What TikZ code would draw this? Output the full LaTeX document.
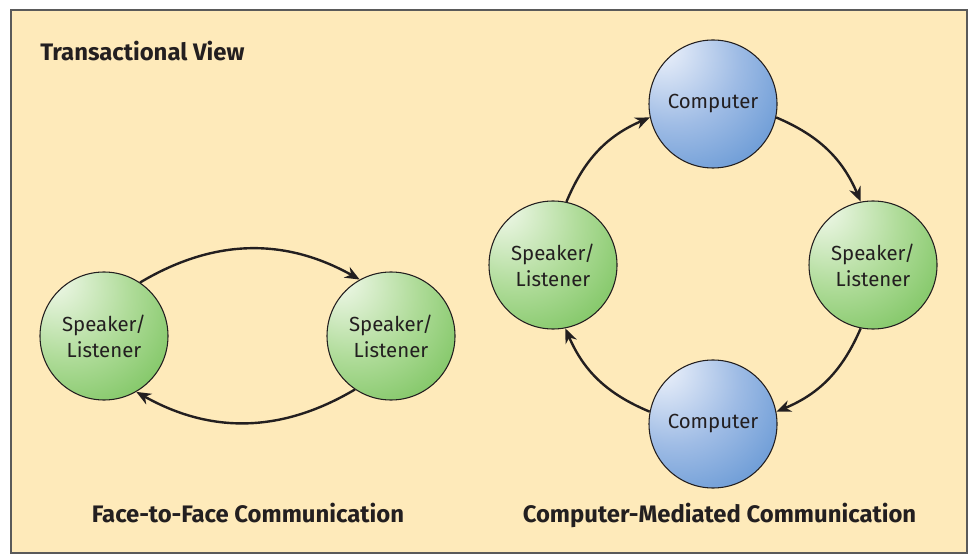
\documentclass[tikz,border=0pt]{standalone}
\usepackage{fontspec}
\setmainfont{Fira Sans}
\usetikzlibrary{arrows.meta}
\definecolor{bg}{HTML}{FEEABA}
\definecolor{framec}{HTML}{5A5A5A}
\definecolor{ink}{HTML}{231F20}
\definecolor{g0}{HTML}{F6FBF3}
\definecolor{g1}{HTML}{E2F2D8}
\definecolor{g2}{HTML}{B0DC9A}
\definecolor{g3}{HTML}{7CC460}
\definecolor{g4}{HTML}{55B040}
\definecolor{b0}{HTML}{F3F6FC}
\definecolor{b1}{HTML}{DCE6F6}
\definecolor{b2}{HTML}{9FBCE5}
\definecolor{b3}{HTML}{6597D4}
\definecolor{b4}{HTML}{357CC3}
\pgfdeclareradialshading{greenball}{\pgfpoint{-22bp}{24bp}}{color(0bp)=(g0); color(7bp)=(g1); color(25bp)=(g2); color(45bp)=(g3); color(60bp)=(g4); color(82bp)=(g4)}
\pgfdeclareradialshading{blueball}{\pgfpoint{-22bp}{24bp}}{color(0bp)=(b0); color(7bp)=(b1); color(25bp)=(b2); color(45bp)=(b3); color(60bp)=(b4); color(82bp)=(b4)}
\tikzset{
  ball/.style={circle, draw=ink, line width=0.8pt, minimum size=96pt, inner sep=0pt,
    align=center, text=ink, font=\fontsize{15.3}{19.5}\selectfont},
  slball/.style={ball, shading=greenball},
  compball/.style={ball, shading=blueball},
  arr/.style={draw=ink, line width=1.8pt, -{Stealth[length=11pt,width=9pt,inset=3.5pt]}},
  title/.style={text=ink, font=\fontsize{17.9}{21}\selectfont\bfseries, inner sep=0pt}
}
\begin{document}
\begin{tikzpicture}[x=0.75pt,y=-0.75pt]
\useasboundingbox (0,0) rectangle (969,555);
\fill[white] (0,0) rectangle (969,555);
\draw[framec, fill=bg, line width=1.1pt] (11,10) rectangle (967,553);

\node[title, anchor=base west] (tv) at (40,61) {Transactional View};
\node[title, anchor=base] (f2f) at (248,522) {Face-to-Face Communication};
\node[title, anchor=base] (cmc) at (719.5,522) {Computer-Mediated Communication};

\node[slball] (a) at (104,336) {Speaker/\\Listener};
\node[slball] (b) at (391,336) {Speaker/\\Listener};

\node[compball] (ct) at (713,104) {Computer};
\node[slball] (sl) at (553,265) {Speaker/\\Listener};
\node[slball] (sr) at (873,265) {Speaker/\\Listener};
\node[compball] (cb) at (713,424) {Computer};

\draw[arr] (a.56) to[bend left=30] (b.119);
\draw[arr] (b.236) to[bend left=30] (a.300);

\draw[arr] (sl.78) to[bend left=22] (ct.192);
\draw[arr] (ct.348) to[bend left=22] (sr.101);
\draw[arr] (sr.259) to[bend left=22] (cb.11);
\draw[arr] (cb.169) to[bend left=22] (sl.281);
\end{tikzpicture}
\end{document}
